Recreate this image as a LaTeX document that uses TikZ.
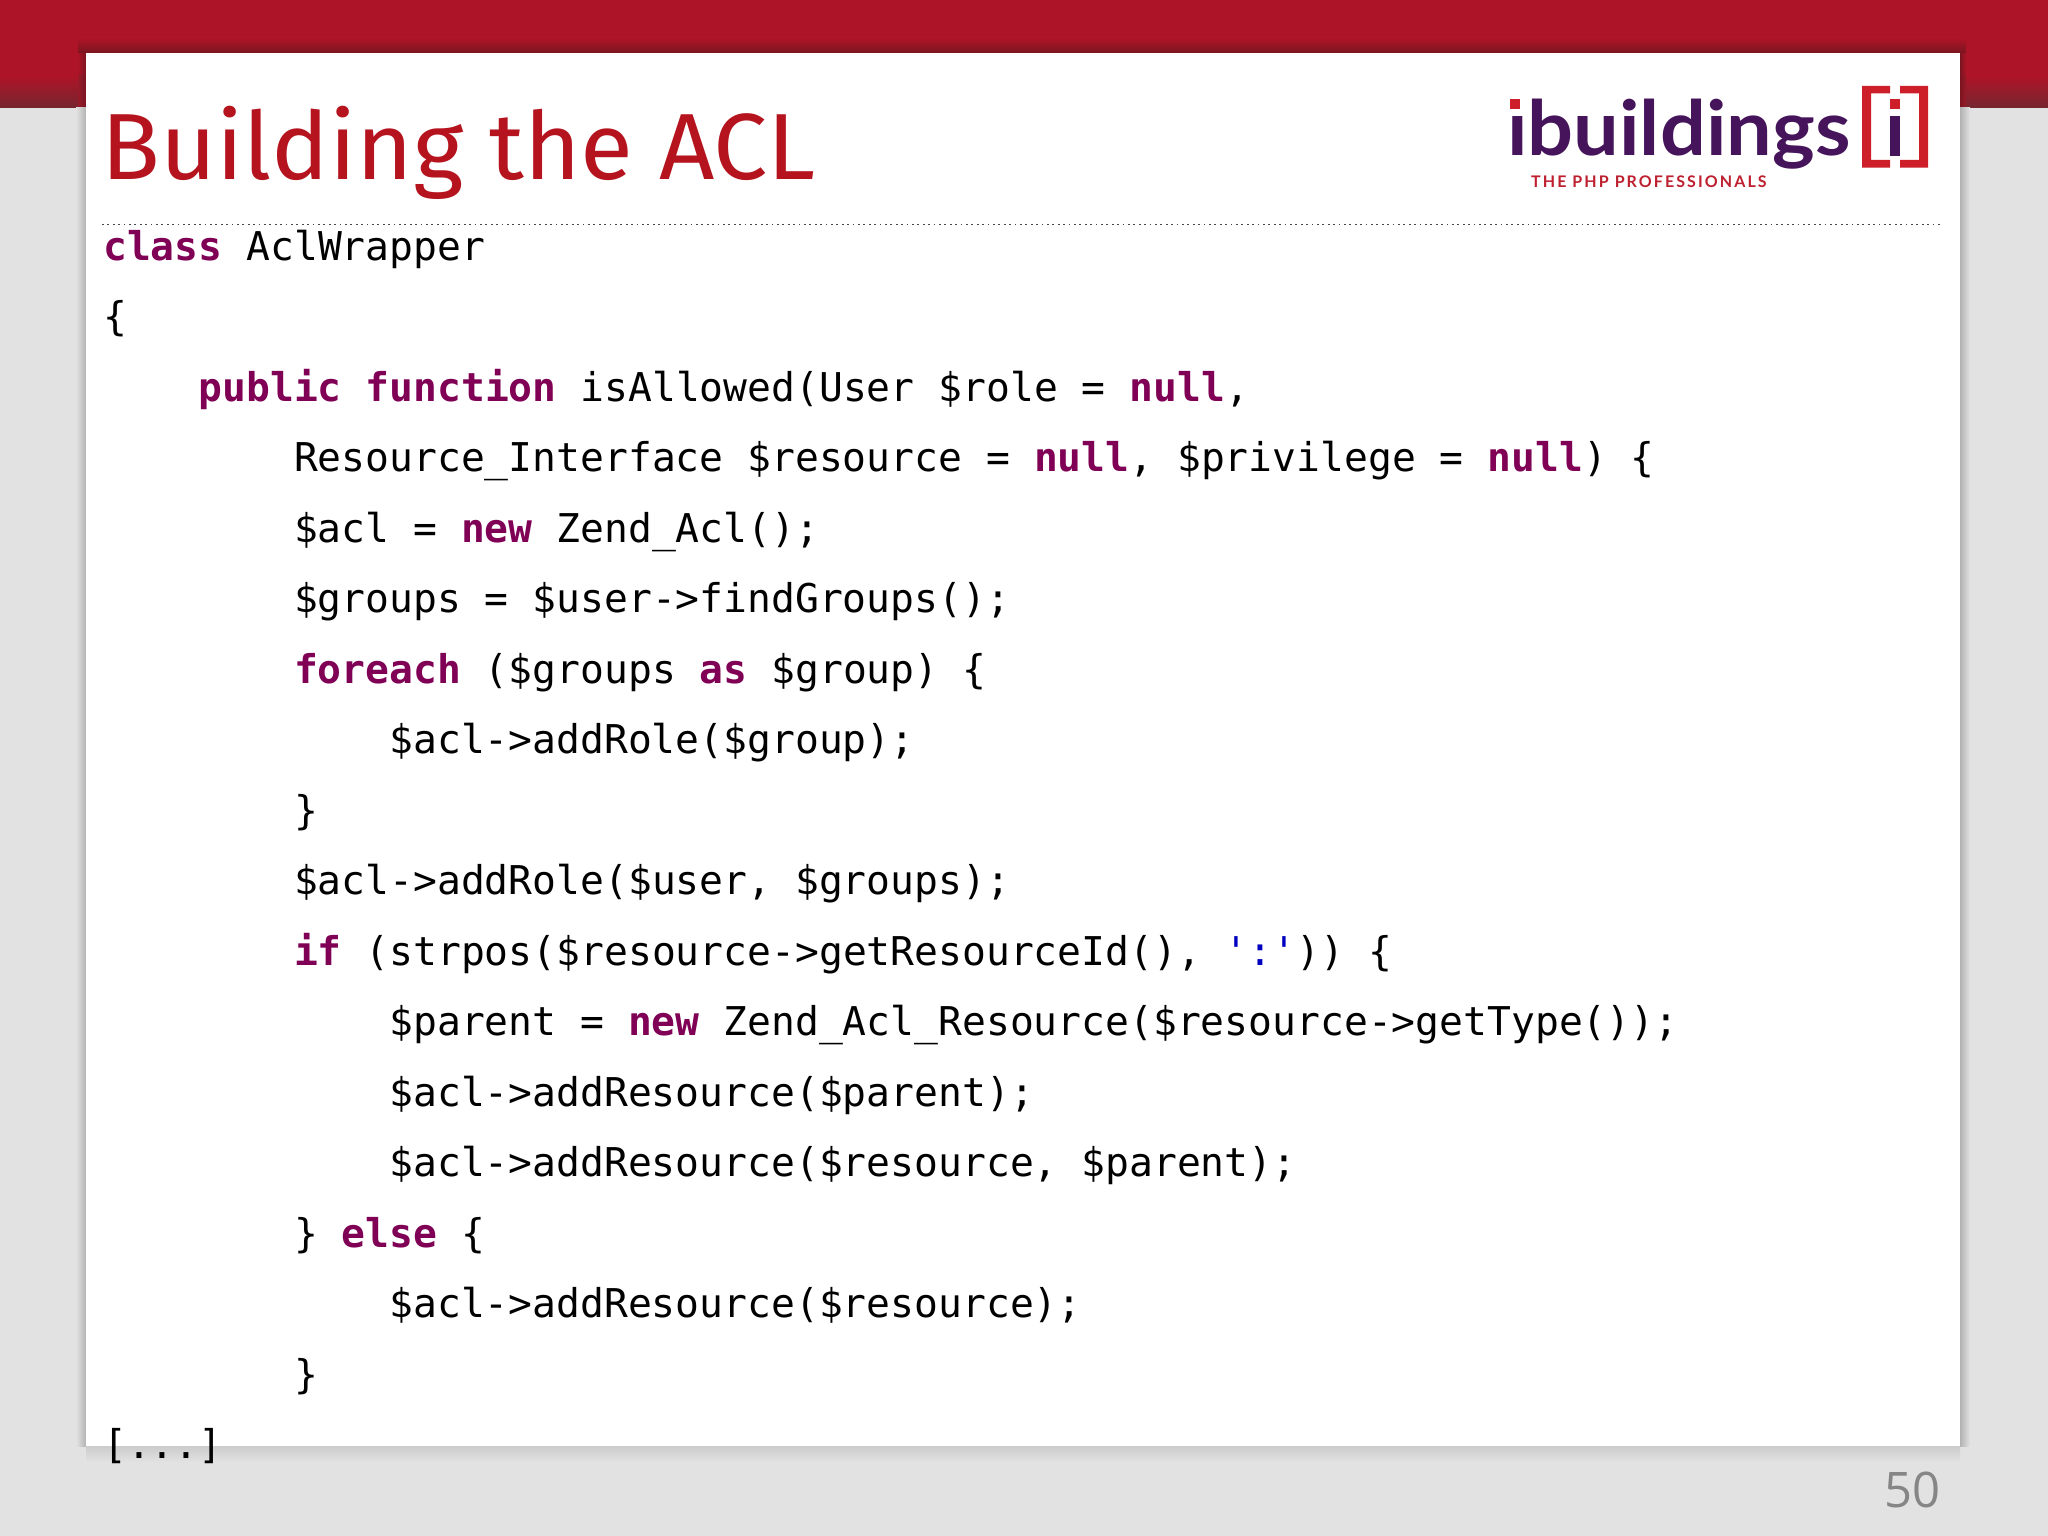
\documentclass[tikz,border=0pt]{standalone}
\usepackage{fontspec}
\setmainfont{Fira Sans}
\newfontfamily\codefont{DejaVu Sans Mono}
\newfontfamily\logofont{Lato}
\newfontfamily\numfont{Open Sans}
\definecolor{bandred}{HTML}{AE1427}
\definecolor{banddark}{HTML}{752630}
\definecolor{topdark}{HTML}{7A1520}
\definecolor{pagegray}{HTML}{E3E2E3}
\definecolor{titlered}{HTML}{B5141F}
\definecolor{kwpurple}{HTML}{7F0055}
\definecolor{strblue}{HTML}{0000C0}
\definecolor{logopurple}{HTML}{45145A}
\definecolor{logored}{HTML}{CC1F2A}
\definecolor{tagred}{HTML}{BE2030}
\definecolor{numgray}{HTML}{868686}
\newcommand{\kw}[1]{\textbf{\textcolor{kwpurple}{#1}}}
\tikzset{
  codeline/.style={anchor=base west,inner sep=0pt,outer sep=0pt,text=black,
    font=\codefont\frenchspacing\fontsize{39.65}{44}\selectfont},
  logopart/.style={fill=logored,draw=none},
}
\begin{document}
\begin{tikzpicture}[x=1pt,y=-1pt]
\useasboundingbox (0,0) rectangle (2048,1536);
% page and band
\fill[pagegray] (0,0) rectangle (2048,1536);
\fill[bandred] (0,0) rectangle (2048,108);
\shade[top color=bandred,bottom color=banddark] (0,76) rectangle (2048,108);
% panel shadows
\shade[left color=bandred,right color=topdark] (78,53) rectangle (86,76);
\shade[left color=bandred!60!banddark,right color=topdark] (78,76) rectangle (86,108);
\shade[left color=topdark,right color=bandred] (1960,53) rectangle (1966,76);
\shade[left color=topdark,right color=bandred!60!banddark] (1960,76) rectangle (1966,108);
\shade[top color=bandred,bottom color=topdark] (78,38) rectangle (1966,53);
\shade[left color=pagegray,right color=black!30] (76,108) rectangle (86,1446);
\shade[left color=black!30,right color=pagegray] (1960,108) rectangle (1970,1446);
\shade[top color=black!20,bottom color=pagegray] (86,1446) rectangle (1960,1462);
% panel
\fill[white] (86,53) rectangle (1960,1446);
% title and rule
\node[anchor=base west,inner sep=0pt,text=titlered,font=\fontsize{94}{100}\selectfont] (title) at (101.5,179) {\addfontfeature{FakeStretch=1.028}Building the ACL};
\coordinate (ruleL) at (102,224.5);
\coordinate (ruleR) at (1941,224.5);
\draw[black!72,line width=1.8pt,dash pattern=on 1.8pt off 3.6pt] (ruleL) -- (ruleR);
% logo
\node[anchor=base west,inner sep=0pt,text=logopurple,font=\logofont\bfseries\fontsize{76}{80}\selectfont] (logoword) at (1507,156) {\addfontfeature{FakeStretch=1.065}ibuildings};
\fill[white] (1505,90) rectangle (1525,113);
\fill[logored] (1510,99) rectangle (1520,109);
\node[anchor=base west,inner sep=0pt,text=tagred,font=\logofont\bfseries\fontsize{16}{18}\selectfont] (logotag) at (1531,187) {\addfontfeature{LetterSpace=13}THE PHP PROFESSIONALS};
\fill[logopart] (1862,86) -- (1890,86) -- (1890,93.5) -- (1871,93.5) -- (1871,160) -- (1890,160) -- (1890,167.5) -- (1862,167.5) -- cycle;
\fill[logopart] (1900,86) -- (1928,86) -- (1928,167.5) -- (1900,167.5) -- (1900,160) -- (1919,160) -- (1919,93.5) -- (1900,93.5) -- cycle;
\fill[logored] (1890,99) rectangle (1900,109);
\fill[logopurple] (1890,116) rectangle (1900,156);
% code
\begin{scope}[yshift=0.7pt]
\node[codeline] (l0) at (103.2,261) {\kw{class} AclWrapper};
\node[codeline] (l1) at (103.2,331.5) {\{};
\node[codeline] (l2) at (198.6,402) {\kw{public} \kw{function} isAllowed(User \$role = \kw{null},};
\node[codeline] (l3) at (294,472.5) {Resource\_Interface \$resource = \kw{null}, \$privilege = \kw{null}) \{};
\node[codeline] (l4) at (294,543) {\$acl = \kw{new} Zend\_Acl();};
\node[codeline] (l5) at (294,613.5) {\$groups = \$user->findGroups();};
\node[codeline] (l6) at (294,684) {\kw{foreach} (\$groups \kw{as} \$group) \{};
\node[codeline] (l7) at (389.4,754.5) {\$acl->addRole(\$group);};
\node[codeline] (l8) at (294,825) {\}};
\node[codeline] (l9) at (294,895.5) {\$acl->addRole(\$user, \$groups);};
\node[codeline] (l10) at (294,966) {\kw{if} (strpos(\$resource->getResourceId(), \textcolor{strblue}{':'})) \{};
\node[codeline] (l11) at (389.4,1036.5) {\$parent = \kw{new} Zend\_Acl\_Resource(\$resource->getType());};
\node[codeline] (l12) at (389.4,1107) {\$acl->addResource(\$parent);};
\node[codeline] (l13) at (389.4,1177.5) {\$acl->addResource(\$resource, \$parent);};
\node[codeline] (l14) at (294,1248) {\} \kw{else} \{};
\node[codeline] (l15) at (389.4,1318.5) {\$acl->addResource(\$resource);};
\node[codeline] (l16) at (294,1389) {\}};
\node[codeline] (l17) at (103.2,1459.5) {[...]};
\end{scope}
% page number
\node[anchor=base east,inner sep=0pt,text=numgray,font=\numfont\fontsize{49}{52}\selectfont] (pagenum) at (1941,1507) {50};
\end{tikzpicture}
\end{document}
